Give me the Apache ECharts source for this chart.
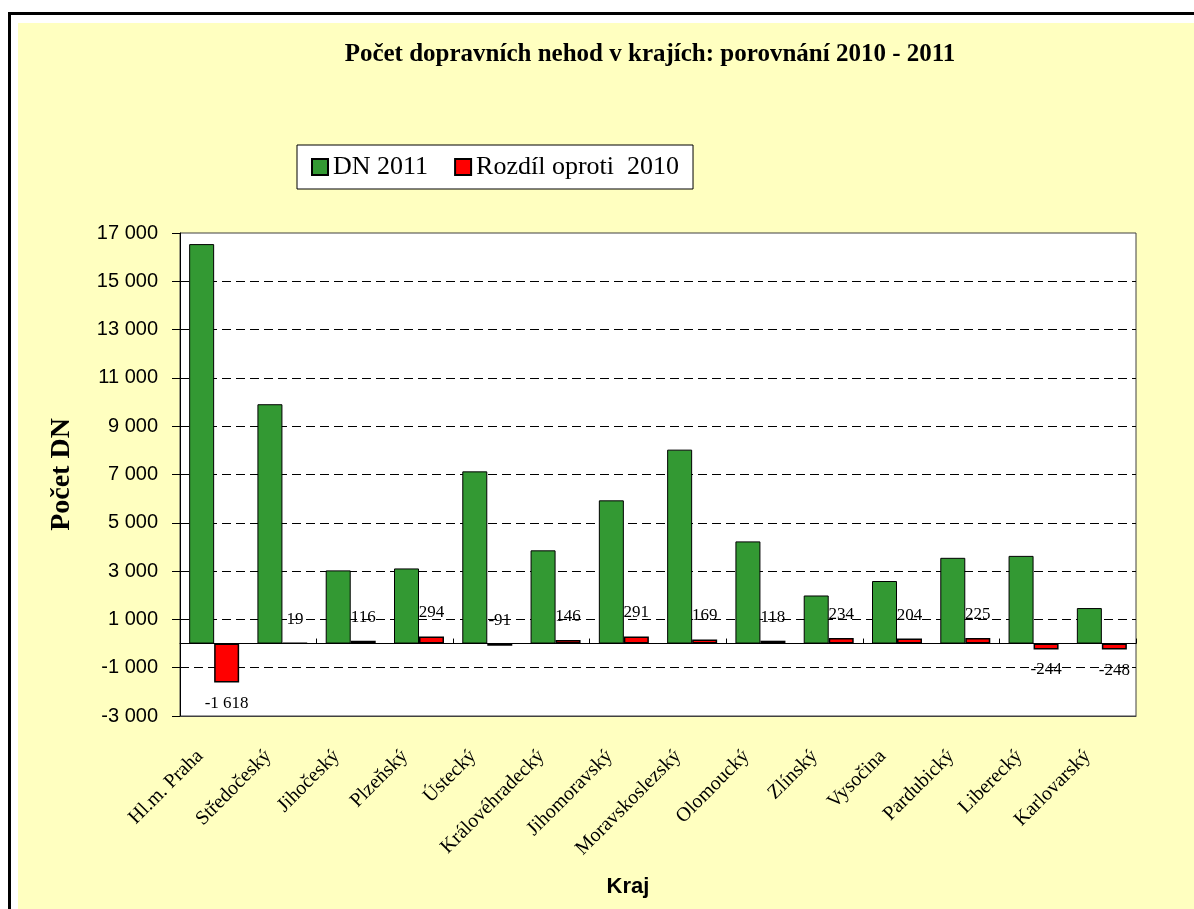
<!DOCTYPE html>
<html>
<head>
<meta charset="utf-8">
<script src="https://cdn.jsdelivr.net/npm/echarts@6/dist/echarts.min.js"></script>
<style>
  html, body { margin: 0; padding: 0; background: #fff; }
  #frame {
    position: absolute; left: 8px; top: 12px; width: 1186px; height: 897px;
    border-left: 3px solid #000; border-top: 3px solid #000;
  }
  #fill {
    position: absolute; left: 18px; top: 23px; width: 1176px; height: 886px;
    background: #FFFFC0;
  }
  #krajeChart { position: absolute; left: 0; top: 0; width: 1194px; height: 909px; }
</style>
</head>
<body>
<div id="frame"></div>
<div id="fill"></div>
<div id="krajeChart"></div>
<script>
const categories = ['Hl.m. Praha', 'Středočeský', 'Jihočeský', 'Plzeňský', 'Ústecký', 'Královéhradecký',
  'Jihomoravský', 'Moravskoslezský', 'Olomoucký', 'Zlínský', 'Vysočina', 'Pardubický', 'Liberecký', 'Karlovarský']
const dn2011 = [16540, 9910, 3030, 3110, 7130, 3860, 5930, 8030, 4230, 1990, 2590, 3550, 3630, 1470]
const rozdil = [-1618, 19, 116, 294, -91, 146, 291, 169, 118, 234, 204, 225, -244, -248]
const yTicks = [-3000, -1000, 1000, 3000, 5000, 7000, 9000, 11000, 13000, 15000, 17000]

function fmt(v) {
  return String(v).replace(/\B(?=(\d{3})+(?!\d))/g, ' ')
}

// malé záporné hodnoty mají popisek nad nulou, jako v originále
const rozdilData = rozdil.map(v => ({
  value: v,
  label: v < -100 ? { position: 'bottom', distance: 12 } : { position: 'top', distance: 15 }
}))

const option = {
  animation: false,
  title: {
    text: 'Počet dopravních nehod v krajích: porovnání 2010 - 2011',
    left: 645,
    textAlign: 'center',
    top: 37,
    textStyle: { fontFamily: 'Liberation Serif', fontWeight: 'bold', fontSize: 25, color: '#000' }
  },
  legend: {
    left: 297,
    top: 145,
    backgroundColor: '#fff',
    borderColor: '#000',
    borderWidth: 1,
    padding: [9, 14],
    itemGap: 26,
    icon: 'rect',
    itemWidth: 16,
    itemHeight: 16,
    textStyle: { fontFamily: 'Liberation Serif', fontSize: 26, color: '#000' },
    data: ['DN 2011', 'Rozdíl oproti  2010']
  },
  grid: {
    left: 180, top: 233, width: 956, height: 483,
    show: true, backgroundColor: '#fff', borderColor: '#404040', borderWidth: 1
  },
  xAxis: [
    {
      type: 'category',
      data: categories,
      position: 'bottom',
      axisLine: { onZero: false, lineStyle: { color: '#404040' } },
      axisTick: { show: false },
      axisLabel: {
        interval: 0, rotate: 45, margin: 23,
        padding: [0, 20, 0, 0],
        fontFamily: 'Liberation Serif', fontSize: 20, color: '#000'
      },
      name: 'Kraj',
      nameLocation: 'middle',
      nameGap: 160,
      nameTextStyle: {
        fontFamily: 'Liberation Sans', fontWeight: 'bold', fontSize: 22, color: '#000',
        padding: [0, 60, 0, 0]
      }
    },
    {
      type: 'category',
      data: categories,
      axisLine: { onZero: true, lineStyle: { color: '#000', width: 1 } },
      axisTick: { show: true, length: 5 },
      axisLabel: { show: false },
      splitLine: { show: false }
    }
  ],
  yAxis: {
    type: 'value',
    min: -3000,
    max: 17000,
    interval: 1000,
    axisLine: { show: true, lineStyle: { color: '#000' } },
    axisTick: { show: true, length: 8, customValues: yTicks, lineStyle: { color: '#000' } },
    axisLabel: {
      customValues: yTicks,
      margin: 22,
      fontFamily: 'Liberation Sans', fontSize: 20, color: '#000',
      formatter: v => ((v + 3000) % 2000 === 0 ? fmt(v) : '')
    },
    splitLine: {
      show: true,
      showMinLine: false,
      showMaxLine: false,
      lineStyle: { color: '#000', type: [9, 5], width: 1 }
    },
    name: 'Počet DN',
    nameLocation: 'middle',
    nameRotate: 90,
    nameGap: 104,
    nameTextStyle: { fontFamily: 'Liberation Serif', fontWeight: 'bold', fontSize: 28, color: '#000' }
  },
  series: [
    {
      name: 'DN 2011',
      type: 'bar',
      xAxisIndex: 0,
      data: dn2011,
      barWidth: 25,
      barGap: '0%',
      itemStyle: { color: '#339933', borderColor: '#000', borderWidth: 1 }
    },
    {
      name: 'Rozdíl oproti  2010',
      type: 'bar',
      xAxisIndex: 0,
      data: rozdilData,
      barWidth: 25,
      barGap: '0%',
      itemStyle: { color: '#FF0000', borderColor: '#000', borderWidth: 1.5 },
      label: {
        show: true,
        fontFamily: 'Liberation Serif',
        fontSize: 17,
        color: '#000',
        formatter: p => fmt(p.value)
      }
    }
  ]
}

let myChart = echarts.init(document.getElementById('krajeChart'))
myChart.setOption(option, true)
</script>
</body>
</html>
